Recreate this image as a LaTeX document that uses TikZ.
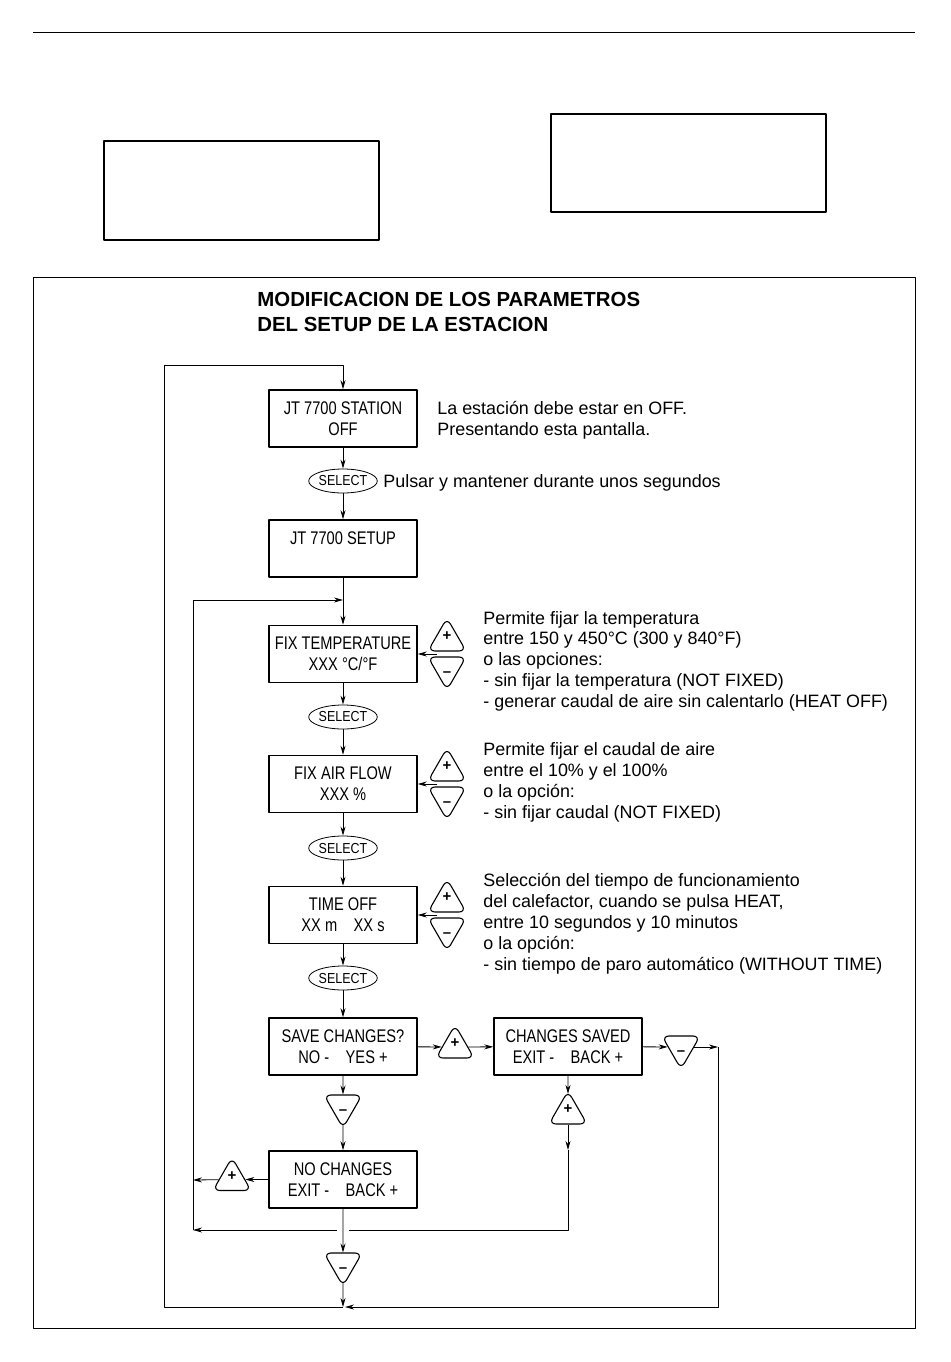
\documentclass[tikz,border=0pt]{standalone}
\usepackage{fontspec}
\setmainfont{Liberation Sans}
\newfontfamily\narrowfont[FakeStretch=0.8]{Liberation Sans}
\newfontfamily\selfont[FakeStretch=0.86]{Liberation Sans}
\usetikzlibrary{arrows.meta,shapes.geometric}
\tikzset{
	box/.style={draw, line width=1.5pt, minimum width=148pt, minimum height=57pt, inner sep=0pt, align=center, font=\narrowfont\fontsize{18.3}{21}\selectfont},
	sel/.style={draw, ellipse, minimum width=57pt, minimum height=24pt, inner sep=0pt, font=\selfont\fontsize{14.5}{14}\selectfont},
	keyup/.style={draw, regular polygon, regular polygon sides=3, rounded corners=7pt, minimum size=44pt, inner sep=0pt, line width=1.1pt, font=\bfseries\fontsize{15}{15}\selectfont},
	keydown/.style={keyup, shape border rotate=180},
	txt/.style={anchor=base west, inner sep=0pt, font=\fontsize{17.9}{21}\selectfont},
	title/.style={anchor=base west, inner sep=0pt, font=\bfseries\fontsize{20.4}{24}\selectfont},
}
\newcommand{\kplus}{\raisebox{-0.5pt}[0pt][0pt]{+}}
\newcommand{\kminus}{\raisebox{-8.5pt}[0pt][0pt]{--}}
\begin{document}
\begin{tikzpicture}[x=1pt, y=-1pt, >={Stealth[length=9pt,width=5pt]}, line width=0.8pt, line join=round]
	\useasboundingbox (0,0) rectangle (950,1362);
	\def\cx{343} \def\kx{447} \def\tx{483}
	% page rule, empty boxes and frame
	\draw (33,32) -- (915,32);
	\draw[line width=1.3pt] (104,141) rectangle (379,240);
	\draw[line width=1.3pt] (551,114) rectangle (826,212);
	\draw (33,277) rectangle (915,1328);
	\node[title] (tit1) at (257,306) {MODIFICACION DE LOS PARAMETROS};
	\node[title] (tit2) at (257,331) {DEL SETUP DE LA ESTACION};
	% screens
	\node[box] (off) at (\cx,418.5) {JT 7700 STATION\\OFF};
	\node[sel] (s0) at (\cx,481) {SELECT};
	\node[box] (setup) at (\cx,548.5) {JT 7700 SETUP\\\mbox{}};
	\node[box] (temp) at (\cx,654) {FIX TEMPERATURE\\XXX °C/°F};
	\node[sel] (s1) at (\cx,717) {SELECT};
	\node[box] (flow) at (\cx,784) {FIX AIR FLOW\\XXX \%};
	\node[sel] (s2) at (\cx,848) {SELECT};
	\node[box] (toff) at (\cx,915) {TIME OFF\\XX m\hspace{0.9em}XX s};
	\node[sel] (s3) at (\cx,978) {SELECT};
	\node[box] (save) at (\cx,1046.5) {SAVE CHANGES?\\NO -\hspace{0.9em}YES +};
	\node[box] (saved) at (568,1046.5) {CHANGES SAVED\\EXIT -\hspace{0.9em}BACK +};
	\node[box] (nochg) at (\cx,1179.5) {NO CHANGES\\EXIT -\hspace{0.9em}BACK +};
	% keys
	\node[keyup] (k3p) at (\kx,640) {\kplus};
	\node[keydown] (k3m) at (\kx,668) {\kminus};
	\node[keyup] (k4p) at (\kx,770) {\kplus};
	\node[keydown] (k4m) at (\kx,798) {\kminus};
	\node[keyup] (k5p) at (\kx,901) {\kplus};
	\node[keydown] (k5m) at (\kx,929) {\kminus};
	\node[keyup] (k6p) at (455,1047) {\kplus};
	\node[keydown] (k6m) at (\cx,1106) {\kminus};
	\node[keyup] (k7p) at (568,1113) {\kplus};
	\node[keydown] (k7m) at (681,1047) {\kminus};
	\node[keyup] (k8p) at (232,1179.5) {\kplus};
	\node[keydown] (k8m) at (\cx,1264) {\kminus};
	% notes
	\node[txt] (n0a) at (437,414) {La estación debe estar en OFF.};
	\node[txt] (n0b) at (437,435) {Presentando esta pantalla.};
	\node[txt] (n1) at (383,487) {Pulsar y mantener durante unos segundos};
	\foreach \t [count=\i] in {{Permite fijar la temperatura},{entre 150 y 450°C (300 y 840°F)},{o las opciones:},{- sin fijar la temperatura (NOT FIXED)},{- generar caudal de aire sin calentarlo (HEAT OFF)}}
		\node[txt] (n3\i) at (\tx,{624+20.75*(\i-1)}) {\t};
	\foreach \t [count=\i] in {{Permite fijar el caudal de aire},{entre el 10\% y el 100\%},{o la opción:},{- sin fijar caudal (NOT FIXED)}}
		\node[txt] (n4\i) at (\tx,{755+21.3*(\i-1)}) {\t};
	\foreach \t [count=\i] in {{Selección del tiempo de funcionamiento},{del calefactor, cuando se pulsa HEAT,},{entre 10 segundos y 10 minutos},{o la opción:},{- sin tiempo de paro automático (WITHOUT TIME)}}
		\node[txt] (n5\i) at (\tx,{886+21*(\i-1)}) {\t};
	% free ends
	\coordinate (a3) at (437,654);
	\coordinate (a4) at (437,784);
	\coordinate (a5) at (437,915);
	\coordinate (rr) at (718,1047);
	\coordinate (rb) at (718,1307);
	\coordinate (mb) at (\cx,1307);
	\coordinate (lb) at (164,1307);
	\coordinate (lt) at (164,365);
	\coordinate (ct) at (\cx,365);
	\coordinate (il) at (193,1180);
	\coordinate (ib) at (193,1230);
	\coordinate (ic) at (\cx,600);
	\coordinate (mid) at (568,1150);
	\coordinate (br) at (568,1230);
	% main chain
	\draw[->] (off) -- (s0);
	\draw[->] (s0) -- (setup);
	\draw[->] (setup) -- (temp);
	\draw[->] (temp) -- (s1);
	\draw[->] (s1) -- (flow);
	\draw[->] (flow) -- (s2);
	\draw[->] (s2) -- (toff);
	\draw[->] (toff) -- (s3);
	\draw[->] (s3) -- (save);
	\draw[->] (a3) -- (temp);
	\draw[->] (a4) -- (flow);
	\draw[->] (a5) -- (toff);
	% save / no save
	\draw[->] (save) -- (k6p);
	\draw[->] (k6p) -- (saved);
	\draw[->] (saved) -- (k7m);
	\draw[->] (k7m) -- (rr);
	\draw[->] (save) -- (k6m);
	\draw[->, shorten <=-4pt] (k6m) -- (nochg);
	\draw[->] (nochg) -- (k8p);
	\draw[->] (k8p) -- (il);
	\draw[->, shorten >=-4pt] (saved) -- (k7p);
	\draw[->] (k7p) -- (mid);
	\draw (mid) -- (br) -- ([xshift=6pt]ib -| \cx,0);
	\draw[->] ([xshift=-6pt]ib -| \cx,0) -- (ib);
	\draw[->] (ib) |- (ic);
	\draw[->] (nochg) -- (k8m);
	% back to the first screen
	\draw[->, shorten <=-4pt] (k8m) -- (mb);
	\draw[->] (rr) -- (rb) -- ([xshift=2pt]mb);
	\draw[->] (mb) -- (lb) -- (lt) -- (ct) -- (off);
\end{tikzpicture}
\end{document}
